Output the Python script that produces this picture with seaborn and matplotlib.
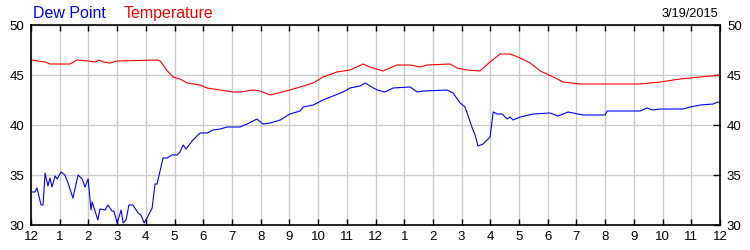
import matplotlib
matplotlib.use("Agg")
import matplotlib.pyplot as plt
import seaborn as sns
import pandas as pd

# ---- data (hours since midnight, degrees F) ----
temp_hours = [0.00, 0.49, 0.66, 1.36, 1.60, 1.99, 2.23, 2.37, 2.51, 2.75, 3.00, 4.39, 4.50, 4.60,
              4.75, 4.95, 5.19, 5.44, 5.89, 6.13, 6.59, 7.04, 7.28, 7.74, 7.98, 8.33, 9.02, 9.83,
              10.17, 10.66, 11.11, 11.57, 11.81, 12.26, 12.75, 13.21, 13.55, 13.80, 14.60,
              14.84, 15.19, 15.64, 15.99, 16.34, 16.69, 17.04, 17.39, 17.74, 18.19, 18.54,
              19.13, 21.22, 21.92, 22.61, 23.31, 24.00]
temp_values = [46.5, 46.3, 46.1, 46.1, 46.5, 46.4, 46.3, 46.5, 46.3, 46.2, 46.4, 46.5, 46.4, 46.0,
               45.4, 44.8, 44.6, 44.2, 44.0, 43.7, 43.5, 43.3, 43.3, 43.5, 43.4, 43.0, 43.5, 44.2,
               44.8, 45.3, 45.5, 46.1, 45.8, 45.4, 46.0, 46.0, 45.8, 46.0, 46.1,
               45.7, 45.5, 45.4, 46.3, 47.1, 47.1, 46.7, 46.2, 45.4, 44.8, 44.3,
               44.1, 44.1, 44.3, 44.6, 44.8, 45.0]

dew_hours = [0.00, 0.14, 0.21, 0.35, 0.42, 0.49, 0.59, 0.66, 0.73, 0.84, 0.91, 1.05, 1.18,
             1.29, 1.46, 1.64, 1.78, 1.88, 1.99, 2.09, 2.13, 2.33, 2.40, 2.58, 2.68, 2.82,
             2.89, 3.00, 3.14, 3.21, 3.31, 3.41, 3.55, 3.73, 3.83, 3.94, 4.04, 4.22, 4.32,
             4.39, 4.60, 4.74, 4.91, 5.09, 5.19, 5.30, 5.40, 5.64, 5.89, 6.13, 6.34, 6.59,
             6.83, 7.28, 7.53, 7.87, 8.08, 8.33, 8.68, 9.02, 9.37, 9.48, 9.83, 10.17, 10.52,
             10.87, 11.11, 11.46, 11.64, 11.81, 12.06, 12.33, 12.61, 13.21, 13.45, 13.66,
             14.49, 14.70, 14.95, 15.12, 15.37, 15.47, 15.57, 15.75, 15.99, 16.10, 16.24,
             16.41, 16.59, 16.69, 16.79, 17.04, 17.49, 18.08, 18.36, 18.71, 19.23, 20.00,
             20.07, 21.22, 21.46, 21.64, 21.92, 22.72, 22.96, 23.31, 23.76, 23.93, 24.00]
dew_values = [33.3, 33.3, 33.7, 32.0, 32.0, 35.2, 33.9, 34.7, 33.8, 34.9, 34.6, 35.3, 35.0,
              34.2, 32.7, 35.0, 34.6, 33.8, 34.6, 31.5, 32.3, 30.5, 31.6, 31.5, 32.0, 31.4,
              31.4, 30.2, 31.5, 30.2, 30.5, 32.0, 32.0, 31.2, 31.0, 30.2, 30.7, 31.7, 34.1,
              34.1, 36.7, 36.7, 37.0, 37.0, 37.3, 38.0, 37.6, 38.5, 39.2, 39.2, 39.5, 39.6,
              39.8, 39.8, 40.1, 40.6, 40.1, 40.2, 40.5, 41.1, 41.4, 41.8, 42.0, 42.5, 42.9,
              43.3, 43.7, 43.9, 44.2, 43.9, 43.5, 43.3, 43.7, 43.8, 43.3, 43.4,
              43.5, 43.2, 42.2, 41.8, 39.7, 39.0, 37.9, 38.1, 38.8, 41.3, 41.1,
              41.1, 40.6, 40.8, 40.5, 40.8, 41.1, 41.2, 40.9, 41.3, 41.0, 41.0,
              41.4, 41.4, 41.7, 41.5, 41.6, 41.6, 41.8, 42.0, 42.1, 42.3, 42.2]

x_ticks = list(range(25))
x_tick_labels = ["12", "1", "2", "3", "4", "5", "6", "7", "8", "9", "10", "11",
                 "12", "1", "2", "3", "4", "5", "6", "7", "8", "9", "10", "11", "12"]
y_ticks = [30, 35, 40, 45, 50]
date_label = "3/19/2015"
series_names = ["Dew Point", "Temperature"]

# ---- style ----
sns.set_style("white")
plt.rcParams["font.family"] = ["Liberation Sans", "DejaVu Sans"]

fig = plt.figure(figsize=(7.5, 2.5), dpi=100)
ax = fig.add_axes([31 / 750, 25 / 250, 689 / 750, 200 / 250])

temp_df = pd.DataFrame({"hour": temp_hours, "value": temp_values})
dew_df = pd.DataFrame({"hour": dew_hours, "value": dew_values})

sns.lineplot(data=temp_df, x="hour", y="value", ax=ax, color="#ff0000", linewidth=0.8)
sns.lineplot(data=dew_df, x="hour", y="value", ax=ax, color="#0000ff", linewidth=0.8)

ax.set_xlim(0, 24)
ax.set_ylim(30, 50)
ax.set_xticks(x_ticks)
ax.set_xticklabels(x_tick_labels)
ax.set_yticks(y_ticks)
ax.set_yticklabels([str(v) for v in y_ticks])
ax.set_xlabel("")
ax.set_ylabel("")

ax.grid(True, color="#cccccc", linewidth=1.0)
ax.set_axisbelow(True)
for s in ax.spines.values():
    s.set_color("black")
    s.set_linewidth(1.2)
    s.set_visible(True)

ax.tick_params(axis="x", which="both", direction="in", length=4, width=1,
               top=True, bottom=True, labeltop=False, labelbottom=True,
               labelsize=9.5, pad=4, colors="black")
ax.tick_params(axis="y", which="both", direction="in", length=5, width=1,
               left=False, right=True, labelleft=True, labelright=True,
               labelsize=9.5, pad=5, colors="black")

fig.text(33 / 750, 1 - 18 / 250, series_names[0], color="#0000ff",
         fontsize=11.5, va="baseline", ha="left")
fig.text(124 / 750, 1 - 18 / 250, series_names[1], color="#ff0000",
         fontsize=11.5, va="baseline", ha="left")
fig.text(718 / 750, 1 - 17 / 250, date_label, color="black",
         fontsize=9.2, va="baseline", ha="right")

fig.savefig("out.png", dpi=100)
